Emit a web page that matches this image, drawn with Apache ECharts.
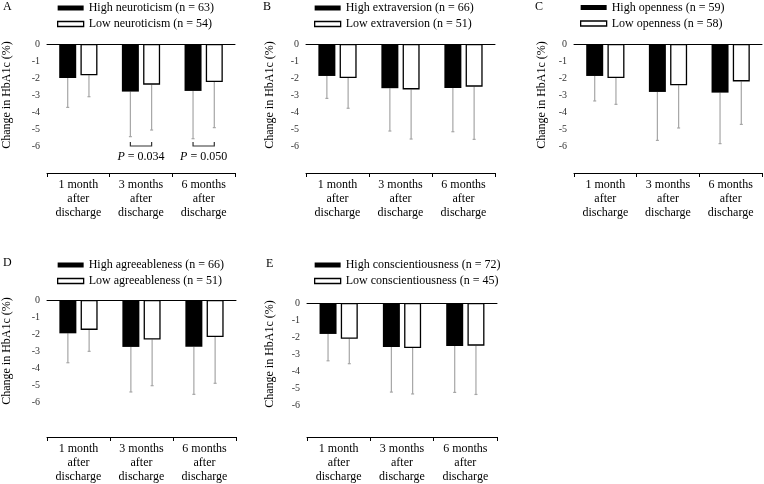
<!DOCTYPE html>
<html>
<head>
<meta charset="utf-8">
<script src="https://cdn.jsdelivr.net/npm/echarts@6/dist/echarts.min.js"></script>
<style>html,body{margin:0;padding:0;background:#fff}#c{width:764px;height:484px}</style>
</head>
<body>
<div id="c"></div>
<script>
// ---------- data ----------
const categories = ['1 month\nafter\ndischarge', '3 months\nafter\ndischarge', '6 months\nafter\ndischarge'];
const yTickMin = -6, yTickMax = 0, yTickStep = 1;
const panelLetters = ['A', 'B', 'C', 'D', 'E'];
const yAxisTitle = 'Change in HbA1c (%)';

const highNames = ['High neuroticism (n = 63)', 'High extraversion (n = 66)', 'High openness (n = 59)', 'High agreeableness (n = 66)', 'High conscientiousness (n = 72)'];
const lowNames  = ['Low neuroticism (n = 54)', 'Low extraversion (n = 51)', 'Low openness (n = 58)', 'Low agreeableness (n = 51)', 'Low conscientiousness (n = 45)'];

// mean change and lower end of the error bar (mean - SD)
const highA = [-2.00, -2.80, -2.76], highErrA = [-3.73, -5.45, -5.57];
const lowA  = [-1.84, -2.39, -2.24], lowErrA  = [-3.10, -5.06, -4.92];
const highB = [-1.88, -2.60, -2.59], highErrB = [-3.20, -5.12, -5.16];
const lowB  = [-2.00, -2.67, -2.51], lowErrB  = [-3.78, -5.59, -5.61];
const highC = [-1.88, -2.82, -2.86], highErrC = [-3.35, -5.67, -5.86];
const lowC  = [-2.00, -2.43, -2.20], lowErrC  = [-3.55, -4.94, -4.73];
const highD = [-1.96, -2.76, -2.75], highErrD = [-3.69, -5.41, -5.55];
const lowD  = [-1.76, -2.33, -2.18], lowErrD  = [-3.02, -5.04, -4.90];
const highE = [-1.82, -2.59, -2.53], highErrE = [-3.40, -5.24, -5.26];
const lowE  = [-2.10, -2.65, -2.51], lowErrE  = [-3.57, -5.35, -5.38];

// significance annotations (panel A): category index, y level, p-value text
const sigA = [[1, -6, '0.034'], [2, -6, '0.050']];

const highVals = [highA, highB, highC, highD, highE];
const highErrs = [highErrA, highErrB, highErrC, highErrD, highErrE];
const lowVals  = [lowA, lowB, lowC, lowD, lowE];
const lowErrs  = [lowErrA, lowErrB, lowErrC, lowErrD, lowErrE];
const sigs = [sigA, [], [], [], []];

// ---------- layout (styles only) ----------
const FONT = 'Liberation Serif';
const layout = [
  {left: 47,  top: 44,  width: 188, offset: 27, nameGap: 34, lx: 7,   ly: 7,   legL: 57,  legT: 1.5},
  {left: 306, top: 44,  width: 189, offset: 27, nameGap: 30, lx: 267, ly: 7,   legL: 314, legT: 1.5},
  {left: 574, top: 44,  width: 188, offset: 27, nameGap: 26, lx: 539, ly: 7,   legL: 580, legT: 1},
  {left: 47,  top: 300, width: 189, offset: 35, nameGap: 34, lx: 7,   ly: 263, legL: 57,  legT: 258.5},
  {left: 307, top: 303, width: 190, offset: 32, nameGap: 31, lx: 270, ly: 264, legL: 314, legT: 258.5}
];
const PLOT_H = 102;
const BAR_W = 17, BAR_GAP_FRAC = 0.25;
const HALF_STEP = (BAR_W + BAR_W * BAR_GAP_FRAC) / 2;

const grids = [], xAxes = [], yAxes = [], series = [], legends = [], graphics = [];

function errRender(side) {
  return function (params, api) {
    const ci = api.value(0);
    const top = api.coord([ci, api.value(1)]);
    const bot = api.coord([ci, api.value(2)]);
    const x = top[0] + side * HALF_STEP;
    const st = {stroke: '#a6a6a6', lineWidth: 1.2};
    return {type: 'group', children: [
      {type: 'line', shape: {x1: x, y1: top[1], x2: x, y2: bot[1]}, style: st},
      {type: 'line', shape: {x1: x - 1.5, y1: bot[1], x2: x + 1.5, y2: bot[1]}, style: st}
    ]};
  };
}

function sigRender(list) {
  return function (params, api) {
    const item = list[params.dataIndex];
    const p = api.coord([item[0], item[1]]);
    const x1 = p[0] - HALF_STEP, x2 = p[0] + HALF_STEP, y = p[1];
    const st = {stroke: '#333', lineWidth: 1.2, fill: null};
    return {type: 'group', children: [
      {type: 'polyline', shape: {points: [[x1, y - 4], [x1, y], [x2, y], [x2, y - 4]]}, style: st},
      {type: 'text', x: p[0], y: y + 11, style: {
        rich: {i: {fontStyle: 'italic', fontFamily: FONT, fontSize: 12, fill: '#000'},
               n: {fontFamily: FONT, fontSize: 12, fill: '#000'}},
        text: '{i|P}{n| = ' + item[2] + '}', align: 'center', verticalAlign: 'middle'}}
    ]};
  };
}

layout.forEach((L, k) => {
  grids.push({left: L.left, top: L.top, width: L.width, height: PLOT_H, containLabel: false});
  const xi = xAxes.length;
  xAxes.push({type: 'category', gridIndex: k, data: categories, position: 'top',
    axisLine: {show: true, lineStyle: {color: '#000', width: 1}}, axisTick: {show: false}, axisLabel: {show: false}});
  xAxes.push({type: 'category', gridIndex: k, data: categories, position: 'bottom', offset: L.offset,
    axisLine: {show: true, lineStyle: {color: '#000', width: 1}},
    axisTick: {show: true, length: 4, lineStyle: {color: '#000'}},
    axisLabel: {show: true, interval: 0, margin: 5, fontFamily: FONT, fontSize: 12, lineHeight: 14, color: '#000'}});
  yAxes.push({type: 'value', gridIndex: k, min: yTickMin, max: yTickMax, interval: yTickStep,
    name: yAxisTitle, nameLocation: 'middle', nameGap: L.nameGap,
    nameTextStyle: {fontFamily: FONT, fontSize: 12, color: '#000'},
    axisLine: {show: false}, axisTick: {show: false}, splitLine: {show: false},
    axisLabel: {margin: 7, fontFamily: FONT, fontSize: 10, color: '#333'}});
  series.push({type: 'bar', name: highNames[k], xAxisIndex: xi, yAxisIndex: k, data: highVals[k],
    barWidth: BAR_W, barGap: (BAR_GAP_FRAC * 100) + '%', itemStyle: {color: '#000'}, silent: true});
  series.push({type: 'bar', name: lowNames[k], xAxisIndex: xi, yAxisIndex: k, data: lowVals[k],
    barWidth: BAR_W, barGap: (BAR_GAP_FRAC * 100) + '%', itemStyle: {color: '#fff', borderColor: '#000', borderWidth: 1.3}, silent: true});
  series.push({type: 'custom', xAxisIndex: xi, yAxisIndex: k, renderItem: errRender(-1), silent: true, z: 1,
    data: highVals[k].map((v, i) => [i, v, highErrs[k][i]])});
  series.push({type: 'custom', xAxisIndex: xi, yAxisIndex: k, renderItem: errRender(1), silent: true, z: 1,
    data: lowVals[k].map((v, i) => [i, v, lowErrs[k][i]])});
  if (sigs[k].length) {
    series.push({type: 'custom', xAxisIndex: xi, yAxisIndex: k, renderItem: sigRender(sigs[k]), silent: true, clip: false,
      data: sigs[k].map(s => [s[0], s[1]])});
  }
  legends.push({orient: 'vertical', left: L.legL, top: L.legT, padding: 0, itemWidth: 26, itemHeight: 5, itemGap: 3,
    icon: 'rect', selectedMode: false,
    textStyle: {fontFamily: FONT, fontSize: 12, color: '#000', lineHeight: 13},
    data: [{name: highNames[k], itemStyle: {color: '#000', borderWidth: 0}},
           {name: lowNames[k], itemStyle: {color: '#fff', borderColor: '#000', borderWidth: 1.3}}]});
  graphics.push({type: 'text', left: L.lx - 4, top: L.ly - 6, style: {text: panelLetters[k], fontFamily: FONT, fontSize: 12, fill: '#000'}});
});

const chart = echarts.init(document.getElementById('c'), null, {renderer: 'canvas'});
chart.setOption({
  animation: false,
  backgroundColor: '#fff',
  grid: grids, xAxis: xAxes, yAxis: yAxes, series: series, legend: legends, graphic: graphics
});
</script>
</body>
</html>
